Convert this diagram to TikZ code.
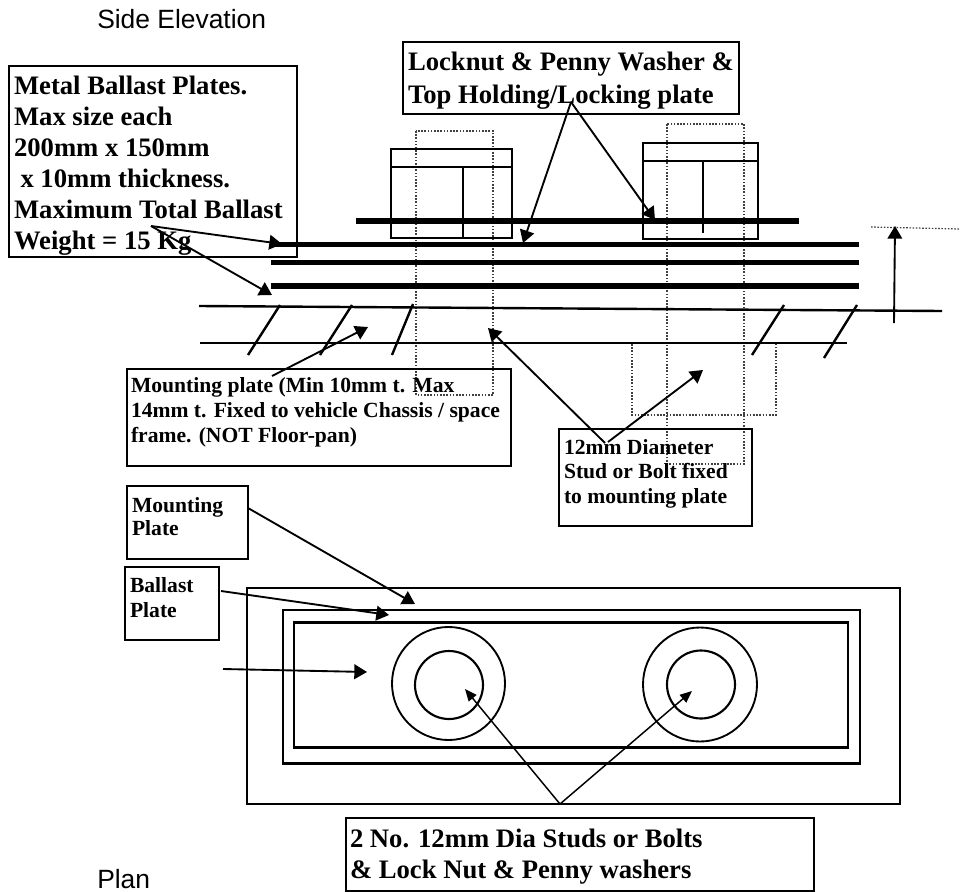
\documentclass[tikz,border=0pt]{standalone}
\usepackage{fontspec}
\setmainfont{Liberation Serif}
\newfontfamily\arialf{Liberation Sans}
\usetikzlibrary{arrows.meta}
\newdimen\pxu \pxu=.75pt
% width, height, left pad, first baseline offset, line spacing (all px), text
\newcommand\lbltext[6]{\parbox[c][#2\pxu][t]{#1\pxu}{\parindent=0pt\leftskip=#3\pxu\baselineskip=#5\pxu\lineskip=0pt\lineskiplimit=-100pt\rightskip=0pt plus 1fil\rule{0pt}{#4\pxu}#6}}
\tikzset{
  lblbox/.style={draw=black,line width=1.6pt,inner sep=0pt,outer sep=0pt,anchor=north west,font=\bfseries},
  thinbox/.style={lblbox,line width=1.2pt},
  bigtext/.style={font=\fontsize{20pt}{23pt}\selectfont\bfseries},
  smalltext/.style={font=\fontsize{16.2pt}{19pt}\selectfont\bfseries},
  caption/.style={font=\fontsize{19.8pt}{23pt}\selectfont\arialf,inner sep=0pt,anchor=base west},
  plateline/.style={line width=3.8pt},
  baseline/.style={line width=1.8pt},
  hatchline/.style={line width=1.8pt},
  nutline/.style={line width=1.4pt},
  hidden/.style={line width=.9pt,dash pattern=on 1.2pt off 1.2pt,draw=black!75},
  ptr/.style={line width=1.4pt,-{Triangle[length=9.5pt,width=11pt]}},
  ptrsmall/.style={line width=1.1pt,-{Triangle[length=9pt,width=7.5pt]}},
  planline/.style={line width=1.6pt},
}
\begin{document}
\begin{tikzpicture}[x=.75pt,y=-.75pt]
\useasboundingbox (0,0) rectangle (960,892);
% captions
\node[caption] (sidecap) at (97,29) {Side Elevation};
\node[caption] (plancap) at (97,888) {Plan};

% hidden studs
\draw[hidden] (416,131) rectangle (493,395);
\draw[hidden] (667,124) rectangle (744,464);
\draw[hidden] (632,344) -- (632,415) -- (776,415) -- (776,344);
\draw[hidden] (871,227) -- (960,229);

% nuts
\draw[nutline] (391,149) rectangle (512,238);
\draw[nutline] (391,167) -- (512,167);
\draw[nutline] (463,167) -- (463,238);
\draw[nutline] (643,143) rectangle (758,239);
\draw[nutline] (643,161) -- (758,161);
\draw[nutline] (703,161) -- (703,233);

% plates
\draw[plateline] (356,221) -- (799,221);
\draw[plateline] (273,244.5) -- (859,244.5);
\draw[plateline] (271,262.5) -- (859,262.5);
\draw[plateline] (271,286) -- (859,286);

% mounting plate
\draw[baseline] (199,306) -- (942,311);
\draw[baseline] (200,343) -- (847,343);
\draw[hatchline] (280,305) -- (248,355);
\draw[hatchline] (352,305) -- (320,355);
\draw[hatchline] (413,304) -- (392,355);
\draw[hatchline] (784,305) -- (752,355);
\draw[hatchline] (857,305) -- (824,358);

% label boxes
\node[lblbox,bigtext] (metal) at (9,66) {\lbltext{288}{191}{5}{28}{31}{Metal Ballast Plates.\\Max size each\\200mm x 150mm\\\hspace*{6.5\pxu}x 10mm thickness.\\Maximum Total Ballast\\Weight = 15 Kg}};
\node[thinbox,bigtext] (lock) at (403,42) {\lbltext{336}{72}{5}{29}{32.5}{Locknut \& Penny Washer \&\\Top Holding/Locking plate}};
\node[lblbox,smalltext] (mount) at (127,369) {\lbltext{384}{97}{4}{23}{25}{Mounting plate (Min 10mm t. Max\\14mm t. Fixed to vehicle Chassis / space\\frame. (NOT Floor-pan)}};
\node[lblbox,smalltext] (stud) at (559,429) {\lbltext{193}{97}{5}{25}{24.5}{12mm Diameter\\Stud or Bolt fixed\\to mounting plate}};
\node[lblbox,smalltext] (mplate) at (127,486) {\lbltext{121}{73}{5}{26}{23}{Mounting\\Plate}};
\node[lblbox,smalltext] (bplate) at (125,567) {\lbltext{94}{73}{5}{25}{25}{Ballast\\Plate}};
\node[thinbox,bigtext] (bolts) at (346,818) {\lbltext{468}{73}{4}{29}{31}{2 No. 12mm Dia Studs or Bolts\\\& Lock Nut \& Penny washers}};

% plan view
\draw[planline] (247,588) rectangle (900,804);
\draw[planline] (283,610) rectangle (860,763.5);
\draw[planline] (294,622.5) rectangle (848,747.5);
\draw[nutline] (448.5,683.5) circle[radius=56.5];
\draw[planline] (449,685) circle[radius=34];
\draw[nutline] (700,684.5) circle[radius=57];
\draw[planline] (701,684.5) circle[radius=34];

% connector ends
\coordinate (metalfrom) at (151,226);
\coordinate (metaltoa) at (282,244);
\coordinate (metaltob) at (272,295);
\coordinate (lockfrom) at (571,102);
\coordinate (locktoa) at (523,243);
\coordinate (locktob) at (655,220);
\coordinate (mountfrom) at (272,376);
\coordinate (mountto) at (368,327);
\coordinate (studfroma) at (605,443);
\coordinate (studfromb) at (608,442);
\coordinate (studtoa) at (488,328);
\coordinate (studtob) at (703,370);
\coordinate (mplatefrom) at (248,508);
\coordinate (mplateto) at (415,604);
\coordinate (bplatefrom) at (221,591);
\coordinate (bplateto) at (389,615);
\coordinate (freefrom) at (223,669);
\coordinate (freeto) at (367,672);
\coordinate (boltsapex) at (560,804);
\coordinate (boltstoa) at (465,689);
\coordinate (boltstob) at (692,691);
\coordinate (riseta) at (894,323);
\coordinate (risetb) at (895,226);

% connectors
\draw[ptr] (metalfrom) -- (metaltoa);
\draw[ptr] (metalfrom) -- (metaltob);
\draw[ptr] (lockfrom) -- (locktoa);
\draw[ptr] (lockfrom) -- (locktob);
\draw[ptr] (mountfrom) -- (mountto);
\draw[ptr] (studfroma) -- (studtoa);
\draw[ptr] (studfromb) -- (studtob);
\draw[ptr] (mplatefrom) -- (mplateto);
\draw[ptr] (bplatefrom) -- (bplateto);
\draw[ptr] (freefrom) -- (freeto);
\draw[ptrsmall] (boltsapex) -- (boltstoa);
\draw[ptrsmall] (boltsapex) -- (boltstob);
\draw[ptr] (riseta) -- (risetb);
\end{tikzpicture}
\end{document}
